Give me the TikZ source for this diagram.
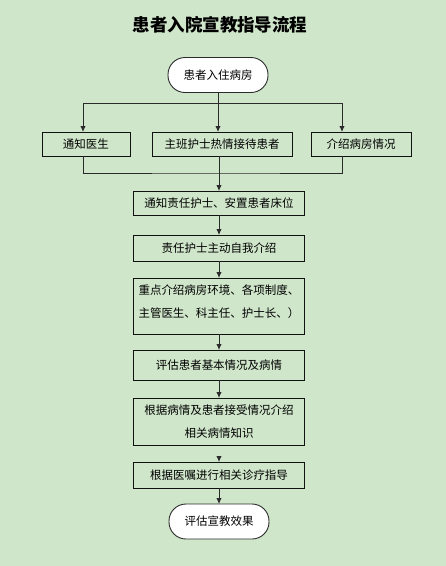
\documentclass[tikz,border=0pt]{standalone}
\usepackage{fontspec}
\setmainfont{Noto Sans CJK SC}
\usepackage{tikz}
\usetikzlibrary{arrows.meta,positioning,calc}
\usepackage{xcolor}
\definecolor{paper}{HTML}{CFE6CA}
\definecolor{ink}{HTML}{111111}
\definecolor{wire}{HTML}{2B2B2B}
\tikzset{
  stepbox/.style={draw=ink,fill=paper,line width=0.9pt,align=center,
    minimum width=171pt,minimum height=24pt,inner sep=2pt,outer sep=0pt,
    font=\fontsize{11.5pt}{23pt}\selectfont},
  terminal/.style={draw=wire,fill=white,line width=0.9pt,rounded corners=17pt,
    minimum width=100pt,minimum height=35pt,align=center,outer sep=0pt,
    font=\fontsize{11.5pt}{14pt}\selectfont},
  arrow/.style={-{Latex[length=6pt,width=5.5pt]},draw=wire,line width=0.9pt},
  wireline/.style={draw=wire,line width=0.9pt}
}

\begin{document}
\begin{tikzpicture}[x=1pt,y=-1pt,node distance=17pt]
  \fill[paper] (0,0) rectangle (446,566);
  \useasboundingbox (0,0) rectangle (446,566);
  \node[font=\fontsize{17.5pt}{20pt}\selectfont\bfseries] (title) at (220,25) {患者入院宣教指导流程};
  \node[terminal] (start) at (218,75) {患者入住病房};
  \node[stepbox,minimum width=88pt] (doc) at (86,144) {通知医生};
  \node[stepbox,minimum width=140pt] (duty) at (222,144) {主班护士热情接待患者};
  \node[stepbox,minimum width=100pt] (ward) at (361,144) {介绍病房情况};
  \node[stepbox] (notify) at (219,203) {通知责任护士、安置患者床位};
  \node[stepbox,minimum height=26pt,below=20pt of notify] (intro) {责任护士主动自我介绍};
  \node[stepbox,minimum height=56pt,align=left,text depth=9pt,below=of intro] (key) {重点介绍病房环境、各项制度、\\主管医生、科主任、护士长、）};
  \node[stepbox,minimum height=30pt,below=16pt of key] (assess) {评估患者基本情况及病情};
  \node[stepbox,minimum height=47pt,below=18pt of assess] (know) {根据病情及患者接受情况介绍\\相关病情知识};
  \node[stepbox,minimum height=26pt,below=of know] (guide) {根据医嘱进行相关诊疗指导};
  \node[terminal,below=16pt of guide] (finish) {评估宣教效果};
  % split to the three first steps
  \coordinate (split) at ($(start.south)+(0,11)$);
  \draw[wireline] (start.south) -- (split);
  \draw[arrow] (split) -| ([xshift=-3pt]doc.north);
  \draw[arrow] (split) -- (split |- duty.north);
  \draw[arrow] (split) -| ([xshift=-19pt]ward.north);
  % join back
  \coordinate (join) at (219,173);
  \draw[wireline] ([xshift=-3pt]doc.south) |- (join) -| ([xshift=-19pt]ward.south);
  \draw[arrow] (duty.south -| notify.north) -- (notify.north);
  \draw[arrow] (notify) -- (intro);
  \draw[arrow] (intro) -- (key);
  \draw[arrow] (key) -- (assess);
  \draw[arrow] (assess) -- (know);
  \draw[arrow] ([yshift=-12pt]know.south) -- (guide);
  \draw[arrow] (guide) -- (finish);
\end{tikzpicture}
\end{document}
